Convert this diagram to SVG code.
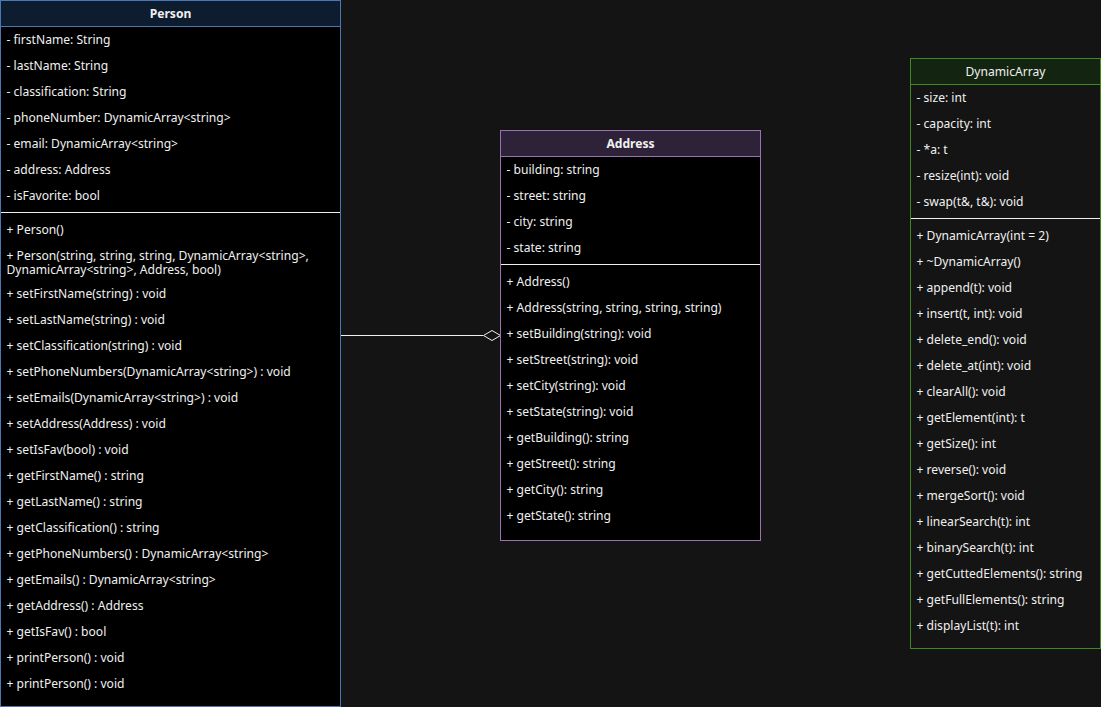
<svg xmlns="http://www.w3.org/2000/svg" width="1101" height="707" viewBox="0 0 1101 707">
<style>
text{font-family:"Noto Sans","Open Sans","Liberation Sans",sans-serif;font-size:12.1px;fill:#f0f0f0}
.h{font-weight:bold;text-anchor:middle}
.hn{text-anchor:middle}
.sep{stroke:#f0f0f0;stroke-width:1}
</style>
<rect width="1101" height="707" fill="#141414"/>
<g id="connectors">
<line x1="340.5" y1="335.5" x2="483" y2="335.5" stroke="#f0f0f0" stroke-width="1"/>
<path d="M500.5 335.5 L492 330.5 L483.5 335.5 L492 340.5 Z" fill="#141414" stroke="#f0f0f0" stroke-width="1"/>
</g>
<g id="person">
<rect x="0.5" y="0.5" width="340" height="706" fill="#000000" stroke="#4a78b5"/>
<rect x="0.5" y="0.5" width="340" height="26" fill="#0e1c2f" stroke="#4a78b5"/>
<text class="h" x="170.5" y="18">Person</text>
<text x="6.5" y="44">- firstName: String</text>
<text x="6.5" y="70">- lastName: String</text>
<text x="6.5" y="96">- classification: String</text>
<text x="6.5" y="122">- phoneNumber: DynamicArray&lt;string&gt;</text>
<text x="6.5" y="148">- email: DynamicArray&lt;string&gt;</text>
<text x="6.5" y="174">- address: Address</text>
<text x="6.5" y="200">- isFavorite: bool</text>
<line class="sep" x1="1" y1="212.5" x2="340" y2="212.5"/>
<text x="6.5" y="234">+ Person()</text>
<text x="6.5" y="260">+ Person(string, string, string, DynamicArray&lt;string&gt;,<tspan x="6.5" dy="14">DynamicArray&lt;string&gt;, Address, bool)</tspan></text>
<text x="6.5" y="298">+ setFirstName(string) : void</text>
<text x="6.5" y="324">+ setLastName(string) : void</text>
<text x="6.5" y="350">+ setClassification(string) : void</text>
<text x="6.5" y="376">+ setPhoneNumbers(DynamicArray&lt;string&gt;) : void</text>
<text x="6.5" y="402">+ setEmails(DynamicArray&lt;string&gt;) : void</text>
<text x="6.5" y="428">+ setAddress(Address) : void</text>
<text x="6.5" y="454">+ setIsFav(bool) : void</text>
<text x="6.5" y="480">+ getFirstName() : string</text>
<text x="6.5" y="506">+ getLastName() : string</text>
<text x="6.5" y="532">+ getClassification() : string</text>
<text x="6.5" y="558">+ getPhoneNumbers() : DynamicArray&lt;string&gt;</text>
<text x="6.5" y="584">+ getEmails() : DynamicArray&lt;string&gt;</text>
<text x="6.5" y="610">+ getAddress() : Address</text>
<text x="6.5" y="636">+ getIsFav() : bool</text>
<text x="6.5" y="662">+ printPerson() : void</text>
<text x="6.5" y="688">+ printPerson() : void</text>
</g>
<g id="address">
<rect x="500.5" y="130.5" width="260" height="410" fill="#000000" stroke="#9d6fb3"/>
<rect x="500.5" y="130.5" width="260" height="26" fill="#2e2238" stroke="#9d6fb3"/>
<text class="h" x="630.5" y="148">Address</text>
<text x="506.5" y="174">- building: string</text>
<text x="506.5" y="200">- street: string</text>
<text x="506.5" y="226">- city: string</text>
<text x="506.5" y="252">- state: string</text>
<line class="sep" x1="501" y1="264.5" x2="760" y2="264.5"/>
<text x="506.5" y="286">+ Address()</text>
<text x="506.5" y="312">+ Address(string, string, string, string)</text>
<text x="506.5" y="338">+ setBuilding(string): void</text>
<text x="506.5" y="364">+ setStreet(string): void</text>
<text x="506.5" y="390">+ setCity(string): void</text>
<text x="506.5" y="416">+ setState(string): void</text>
<text x="506.5" y="442">+ getBuilding(): string</text>
<text x="506.5" y="468">+ getStreet(): string</text>
<text x="506.5" y="494">+ getCity(): string</text>
<text x="506.5" y="520">+ getState(): string</text>
</g>
<g id="dynamicarray">
<rect x="910.5" y="58.5" width="190" height="590" fill="#141414" stroke="#3f8a1f"/>
<rect x="910.5" y="58.5" width="190" height="26" fill="#132410" stroke="#3f8a1f"/>
<text class="hn" x="1005.5" y="76">DynamicArray</text>
<text x="916.5" y="102">- size: int</text>
<text x="916.5" y="128">- capacity: int</text>
<text x="916.5" y="154">- *a: t</text>
<text x="916.5" y="180">- resize(int): void</text>
<text x="916.5" y="206">- swap(t&amp;, t&amp;): void</text>
<line class="sep" x1="911" y1="218.5" x2="1100" y2="218.5"/>
<text x="916.5" y="240">+ DynamicArray(int = 2)</text>
<text x="916.5" y="266">+ ~DynamicArray()</text>
<text x="916.5" y="292">+ append(t): void</text>
<text x="916.5" y="318">+ insert(t, int): void</text>
<text x="916.5" y="344">+ delete_end(): void</text>
<text x="916.5" y="370">+ delete_at(int): void</text>
<text x="916.5" y="396">+ clearAll(): void</text>
<text x="916.5" y="422">+ getElement(int): t</text>
<text x="916.5" y="448">+ getSize(): int</text>
<text x="916.5" y="474">+ reverse(): void</text>
<text x="916.5" y="500">+ mergeSort(): void</text>
<text x="916.5" y="526">+ linearSearch(t): int</text>
<text x="916.5" y="552">+ binarySearch(t): int</text>
<text x="916.5" y="578">+ getCuttedElements(): string</text>
<text x="916.5" y="604">+ getFullElements(): string</text>
<text x="916.5" y="630">+ displayList(t): int</text>
</g>
</svg>
